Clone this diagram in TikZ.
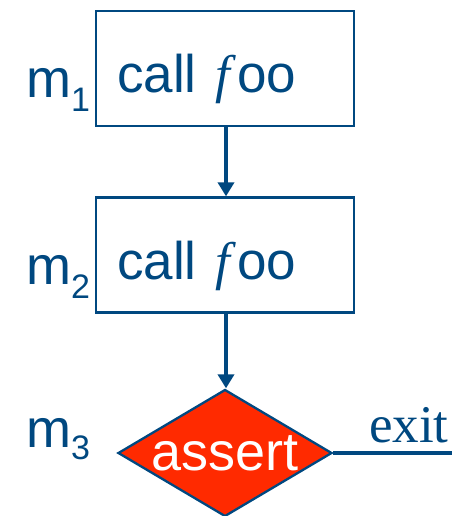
\documentclass[tikz,border=0pt]{standalone}
\usepackage{fontspec}
\setmainfont{Liberation Sans}
\newfontfamily\serifff{Liberation Serif}
\usetikzlibrary{shapes.geometric,arrows.meta}
\definecolor{dblue}{RGB}{0,72,128}
\definecolor{ared}{RGB}{255,42,0}
\tikzset{
  stmt/.style={draw=dblue,line width=2.3pt,minimum width=258pt,minimum height=115pt,inner sep=0pt},
  stmttext/.style={anchor=base west,inner sep=0pt,text=dblue,font=\fontsize{53}{60}\selectfont},
  mlabel/.style={anchor=base west,inner sep=0pt,text=dblue,font=\fontsize{54}{60}\selectfont},
  flow/.style={draw=dblue,line width=4pt,-{Triangle[width=16pt,length=14pt]}},
  assertbox/.style={shape=diamond,draw=dblue,line width=2.3pt,fill=ared,minimum width=214pt,minimum height=127pt,inner sep=0pt,aspect=1.685,text=white,font=\fontsize{54}{60}\selectfont},
  exitline/.style={draw=dblue,line width=4.5pt}
}
\newcommand{\fitalic}{\hspace{4pt}{\serifff\itshape f}\hspace{7pt}}
\begin{document}
\begin{tikzpicture}[x=1pt,y=-1pt]
\useasboundingbox (0,0) rectangle (452,516);
\clip (0,0) rectangle (452,516);
\node[stmt] (b1) at (225,68.5) {};
\node[stmttext] (t1) at (117,93) {call \fitalic oo};
\node[stmt] (b2) at (225,255) {};
\node[stmttext] (t2) at (117,279) {call \fitalic oo};
\node[assertbox] (a) at (225,453) {assert};
\node[mlabel] (m1) at (26,98) {m\raisebox{-14pt}{\fontsize{34}{34}\selectfont 1}};
\node[mlabel] (m2) at (26,284) {m\raisebox{-14pt}{\fontsize{34}{34}\selectfont 2}};
\node[mlabel] (m3) at (26,447) {m\raisebox{-12pt}{\fontsize{34}{34}\selectfont 3}};
\coordinate (e) at (452,453);
\node[anchor=base west,inner sep=0pt,text=dblue,font=\serifff\fontsize{53}{60}\selectfont] (ex) at (369,442) {exit};
\draw[flow] (b1.south -| 226,0) -- (b2.north -| 226,0);
\draw[flow] (b2.south -| 226,0) -- (a.north -| 226,0);
\draw[exitline] (a.east) -- (e);
\end{tikzpicture}
\end{document}
